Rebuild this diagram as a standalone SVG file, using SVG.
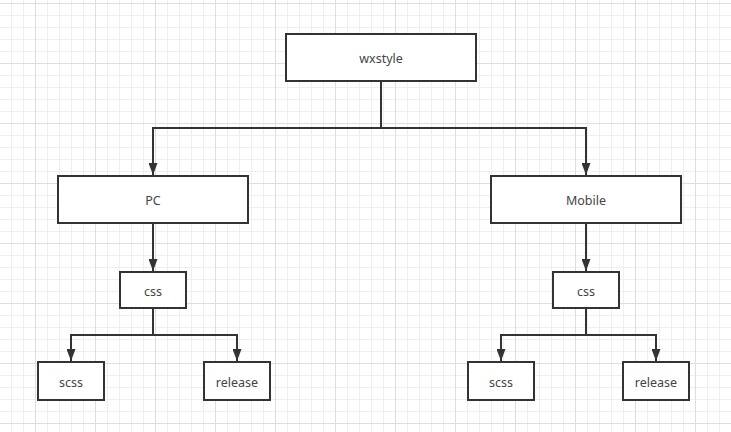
<svg xmlns="http://www.w3.org/2000/svg" width="731" height="432" viewBox="0 0 731 432">
<defs>
<pattern id="minor" x="-1" y="3" width="12" height="12" patternUnits="userSpaceOnUse">
<path d="M0.5 0V12M0 0.5H12" fill="none" stroke="#efefef" stroke-width="1"/>
</pattern>
<pattern id="major" x="-25" y="3" width="60" height="60" patternUnits="userSpaceOnUse">
<path d="M0.5 0V60M0 0.5H60" fill="none" stroke="#dedede" stroke-width="1"/>
</pattern>
<marker id="arr" viewBox="0 0 12 9" refX="12" refY="4.5" markerWidth="12" markerHeight="9" orient="auto" markerUnits="userSpaceOnUse">
<path d="M0 0L12 4.5L0 9Z" fill="#333333"/>
</marker>
</defs>
<style>
.box{fill:#ffffff;stroke:#333333;stroke-width:2}
.lbl{font-family:"Noto Sans","Liberation Sans",sans-serif;font-size:12.5px;fill:#444444;text-anchor:middle;dominant-baseline:central}
.edge{fill:none;stroke:#333333;stroke-width:2}
</style>
<rect width="731" height="432" fill="#ffffff"/>
<rect width="731" height="432" fill="url(#minor)"/>
<rect width="731" height="432" fill="url(#major)"/>
<g id="connectors">
<path class="edge" d="M381 82V128"/>
<path class="edge" d="M381 128H153V175" marker-end="url(#arr)"/>
<path class="edge" d="M381 128H586V175" marker-end="url(#arr)"/>
<path class="edge" d="M153 223V271" marker-end="url(#arr)"/>
<path class="edge" d="M586 223V271" marker-end="url(#arr)"/>
<path class="edge" d="M153 308V335"/>
<path class="edge" d="M153 335H71V361" marker-end="url(#arr)"/>
<path class="edge" d="M153 335H237V361" marker-end="url(#arr)"/>
<path class="edge" d="M586 308V335"/>
<path class="edge" d="M586 335H501V361" marker-end="url(#arr)"/>
<path class="edge" d="M586 335H656V361" marker-end="url(#arr)"/>
</g>
<g id="wxstyle"><rect class="box" x="286" y="34" width="190" height="47"/><text class="lbl" x="381" y="58">wxstyle</text></g>
<g id="pc"><rect class="box" x="58" y="176" width="190" height="47"/><text class="lbl" x="153" y="200">PC</text></g>
<g id="mobile"><rect class="box" x="491" y="176" width="190" height="47"/><text class="lbl" x="586" y="200">Mobile</text></g>
<g id="css-pc"><rect class="box" x="120" y="272" width="66" height="36"/><text class="lbl" x="153" y="291">css</text></g>
<g id="css-mobile"><rect class="box" x="553" y="272" width="66" height="36"/><text class="lbl" x="586" y="291">css</text></g>
<g id="scss-pc"><rect class="box" x="38" y="362" width="66" height="38"/><text class="lbl" x="71" y="382">scss</text></g>
<g id="release-pc"><rect class="box" x="204" y="362" width="66" height="38"/><text class="lbl" x="237" y="382">release</text></g>
<g id="scss-mobile"><rect class="box" x="468" y="362" width="66" height="38"/><text class="lbl" x="501" y="382">scss</text></g>
<g id="release-mobile"><rect class="box" x="623" y="362" width="66" height="38"/><text class="lbl" x="656" y="382">release</text></g>
</svg>
